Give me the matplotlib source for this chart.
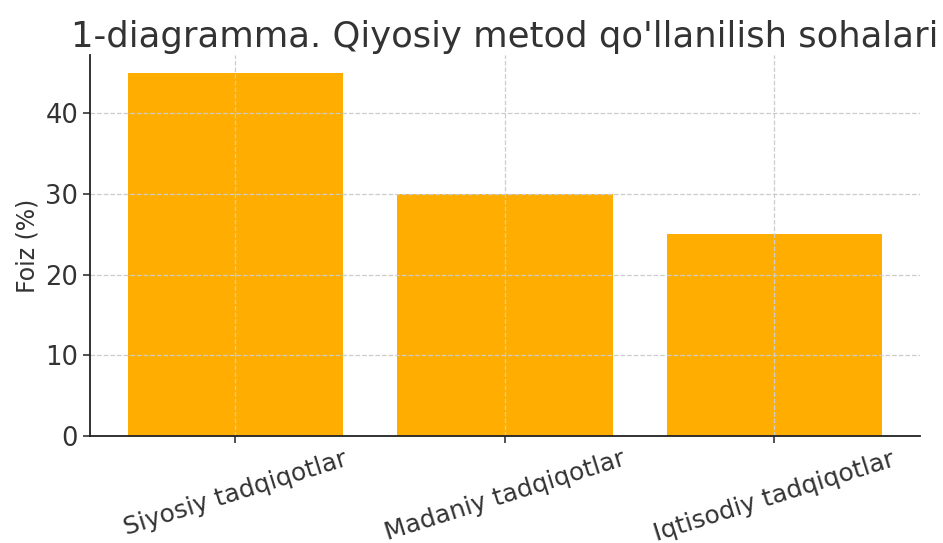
import matplotlib
matplotlib.use('Agg')
import matplotlib.pyplot as plt

categories = ['Siyosiy tadqiqotlar', 'Madaniy tadqiqotlar', 'Iqtisodiy tadqiqotlar']
values = [45, 30, 25]

fig = plt.figure(figsize=(9.43, 5.43), dpi=100)
ax = fig.add_axes([0.0954, 0.197, 0.880, 0.702])

ax.bar(categories, values, color='#ffae00', width=0.8)
ax.grid(True, linestyle='--', color='#cccccc', linewidth=0.9)

ax.set_title("1-diagramma. Qiyosiy metod qo'llanilish sohalari", fontsize=25.5, color='#333333')
ax.set_ylabel('Foiz (%)', fontsize=17, color='#333333')
ax.tick_params(axis='both', labelsize=18.5, colors='#333333', length=5, width=1.2)
ax.tick_params(axis='x', labelsize=18, pad=3)
plt.setp(ax.get_xticklabels(), rotation=17.5)
ax.set_yticks([0, 10, 20, 30, 40])

for s in ['top', 'right']:
    ax.spines[s].set_visible(False)
for s in ['left', 'bottom']:
    ax.spines[s].set_color('#222222')
    ax.spines[s].set_linewidth(1.3)

fig.savefig('out.png', dpi=100)
